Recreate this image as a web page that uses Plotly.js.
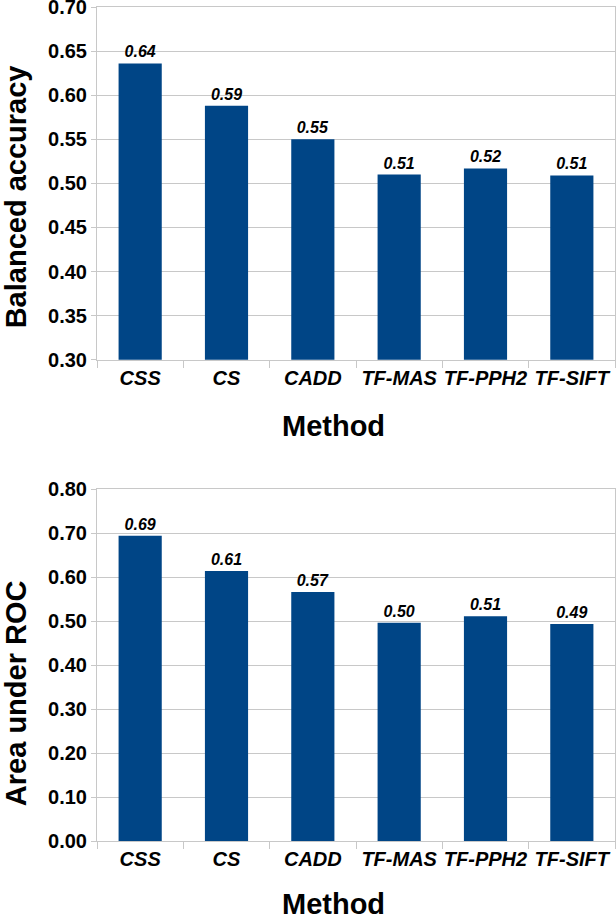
<!DOCTYPE html>
<html>
<head>
<meta charset="utf-8">
<script src="https://cdn.plot.ly/plotly-3.0.1.min.js"></script>
<style>html,body{margin:0;padding:0;background:#fff;}#chart{width:616px;height:918px;}</style>
</head>
<body>
<div id="chart"></div>
<script>
const methods = ["CSS", "CS", "CADD", "TF-MAS", "TF-PPH2", "TF-SIFT"];
const balancedAccuracy = [0.636, 0.588, 0.550, 0.510, 0.517, 0.509];
const areaUnderROC = [0.694, 0.614, 0.566, 0.496, 0.511, 0.493];
const topTicks = [0.30, 0.35, 0.40, 0.45, 0.50, 0.55, 0.60, 0.65, 0.70];
const bottomTicks = [0.00, 0.10, 0.20, 0.30, 0.40, 0.50, 0.60, 0.70, 0.80];

const FONT = "Liberation Sans, Arial, sans-serif";
const BAR = "#004586";
const GRID = "#c8c8c8";

function barTrace(y, xa, ya) {
  return {
    type: "bar", x: methods, y: y, xaxis: xa, yaxis: ya,
    marker: {color: BAR},
    texttemplate: "<b><i>%{y:.2f}</i></b>",
    textposition: "outside",
    textfont: {family: FONT, size: 16, color: "#000"},
    cliponaxis: false,
    hoverinfo: "x+y", showlegend: false
  };
}

function xAxis(anchor) {
  return {
    anchor: anchor, domain: [0, 1], type: "category",
    tickson: "boundaries", ticks: "outside", ticklen: 7, tickcolor: GRID,
    tickangle: 0,
    showline: true, linecolor: GRID, linewidth: 1, mirror: true,
    showgrid: false,
    tickfont: {family: FONT, size: 20, color: "#000", weight: "bold", style: "italic"},
    ticklabeloverflow: "allow",
    fixedrange: true
  };
}
function yAxis(anchor, domain, range, ticks) {
  return {
    anchor: anchor, domain: domain, range: range,
    tickvals: ticks, ticktext: ticks.map(v => v.toFixed(2)),
    ticks: "outside", ticklen: 5, tickcolor: GRID,
    showline: true, linecolor: GRID, linewidth: 1, mirror: true,
    showgrid: true, gridcolor: GRID, gridwidth: 1, zeroline: false,
    tickfont: {family: FONT, size: 20, color: "#000", weight: "bold"},
    ticklabeloverflow: "allow",
    fixedrange: true
  };
}

const data = [
  barTrace(balancedAccuracy, "x", "y"),
  barTrace(areaUnderROC, "x2", "y2")
];

const titleFont = {family: FONT, size: 29, color: "#000", weight: "bold"};
const layout = {
  width: 616, height: 918,
  margin: {l: 97, r: 1, t: 7, b: 77},
  paper_bgcolor: "#fff", plot_bgcolor: "#fff",
  bargap: 0.5,
  xaxis: xAxis("y"),
  yaxis: yAxis("x", [0.577, 1], [0.30, 0.70], topTicks),
  xaxis2: xAxis("y2"),
  yaxis2: yAxis("x2", [0, 0.422], [0, 0.80], bottomTicks),
  annotations: [
    {text: "<b>Balanced accuracy</b>", xref: "paper", yref: "paper", x: -0.156, y: 0.772,
     textangle: -90, showarrow: false, font: titleFont, xanchor: "center", yanchor: "middle"},
    {text: "<b>Area under ROC</b>", xref: "paper", yref: "paper", x: -0.156, y: 0.1775,
     textangle: -90, showarrow: false, font: titleFont, xanchor: "center", yanchor: "middle"},
    {text: "<b>Method</b>", xref: "paper", yref: "paper", x: 0.4556, y: 0.4976,
     showarrow: false, font: titleFont, xanchor: "center", yanchor: "middle"},
    {text: "<b>Method</b>", xref: "paper", yref: "paper", x: 0.4556, y: -0.0755,
     showarrow: false, font: titleFont, xanchor: "center", yanchor: "middle"}
  ]
};

Plotly.newPlot("chart", data, layout, {displayModeBar: false, staticPlot: true});
</script>
</body>
</html>
